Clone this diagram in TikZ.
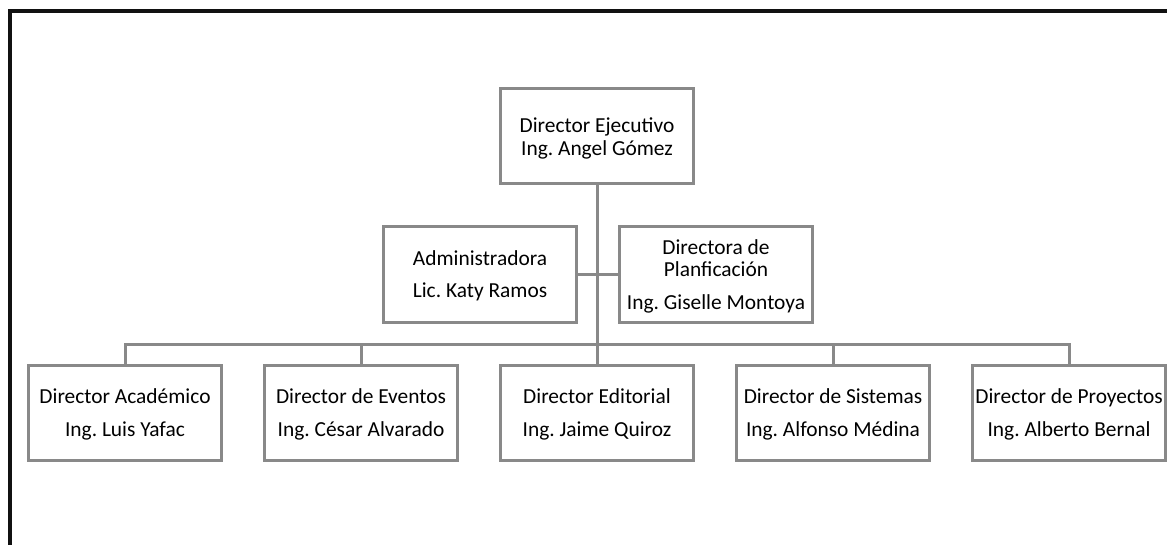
\documentclass[tikz,border=0pt]{standalone}
\usepackage{fontspec}
\setmainfont{Carlito}
\usepackage{xcolor}
\usepackage{tikz}
\usetikzlibrary{positioning, calc}
\definecolor{gris}{RGB}{137,137,137}
\definecolor{marco}{RGB}{17,17,17}
\tikzset{cargo/.style={draw=gris, line width=3pt, minimum width=193pt, minimum height=95pt, inner sep=0pt, text depth=0pt, align=center, font=\fontsize{21.4}{22.5}\selectfont\frenchspacing}}
\tikzset{linea/.style={color=gris, line width=3pt}}

\begin{document}
\begin{tikzpicture}[x=1pt, y=1pt]
    \useasboundingbox (0,-545) rectangle (1167,0);
    \draw[line width=4pt, color=marco] (9.5,-560) -- (9.5,-11.5) -- (1180,-11.5);
    \node[cargo] (dir) at (597,-136.5) {Director Ejecutivo\\Ing. Angel Gómez};
    \coordinate (nudo) at ($(dir.south)+(0,-89)$);
    \node[cargo, left = 19pt of nudo] (adm) {Administradora\\[9.5pt]Lic. Katy Ramos};
    \node[cargo, right = 21pt of nudo] (plan) {Directora de\\Planficación\\[10.5pt]Ing. Giselle Montoya};
    \coordinate (bus) at ($(dir.south)+(0,-158.5)$);
    \node[cargo, below = 20pt of bus] (edi) {Director Editorial\\[10.5pt]Ing. Jaime Quiroz};
    \node[cargo, left = 40pt of edi] (eve) {Director de Eventos\\[10.5pt]Ing. César Alvarado};
    \node[cargo, left = 40pt of eve] (aca) {Director Académico\\[10.5pt]Ing. Luis Yafac};
    \node[cargo, right = 40pt of edi] (sis) {Director de Sistemas\\[10.5pt]Ing. Alfonso Médina};
    \node[cargo, right = 40pt of sis] (pro) {Director de Proyectos\\[10.5pt]Ing. Alberto Bernal};
    % lineas
    \draw[linea] (dir) -- (edi);
    \draw[linea] (adm) -- (plan);
    \foreach \n in {aca, eve, sis, pro}
        \draw[linea] (bus) -| (\n);
\end{tikzpicture}
\end{document}
